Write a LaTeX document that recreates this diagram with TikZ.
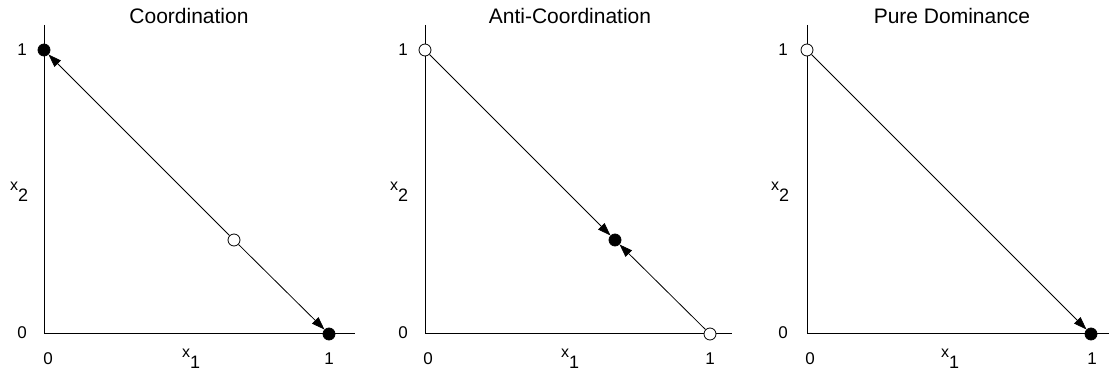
\documentclass[tikz,border=0pt]{standalone}
\usepackage{fontspec}
\setmainfont{Liberation Sans}
\usetikzlibrary{arrows.meta}
\newcommand{\lowsub}[1]{\raisebox{-11pt}{\fontsize{18}{18}\selectfont #1}}
\begin{document}
\begin{tikzpicture}[x=1pt,y=-1pt,
  axis/.style={line width=1pt},
  flow/.style={line width=0.8pt,-{Triangle[length=13pt,width=9pt]}},
  stable/.style={circle,draw,fill=black,minimum size=12pt,inner sep=0pt,line width=0.8pt},
  unstable/.style={circle,draw,fill=white,minimum size=12pt,inner sep=0pt,line width=0.8pt},
  ticklab/.style={font=\fontsize{17}{17}\selectfont,inner sep=0pt},
  paneltitle/.style={font=\fontsize{21}{21}\selectfont,inner sep=0pt},
  varlab/.style={font=\fontsize{16}{16}\selectfont,inner sep=0pt,anchor=base west}]
\useasboundingbox (0,0) rectangle (1109,371);

% Panel 1: Coordination
\begin{scope}[shift={(44,334)}]
  \draw[axis] (0,-309) coordinate (yt1) -- (0,0) coordinate (o1) -- (311,0) coordinate (xr1);
  \node[stable] (a1) at (0,-284) {};
  \node[stable] (b1) at (285,0) {};
  \node[unstable] (m1) at (190,-94) {};
  \draw[flow] (m1) -- (a1);
  \draw[flow] (m1) -- (b1);
  \node[ticklab] (l1a) at (-22,-284) {1};
  \node[ticklab] (l1b) at (-22,-1.5) {0};
  \node[ticklab] (l1c) at (4,25) {0};
  \node[ticklab] (l1d) at (285,25) {1};
  \node[varlab] (v1x) at (138,24) {x\lowsub{1}};
  \node[varlab] (v1y) at (-34,-143) {x\lowsub{2}};
  \node[paneltitle] (t1) at (145,-318.5) {Coordination};
\end{scope}

% Panel 2: Anti-Coordination
\begin{scope}[shift={(425,334)}]
  \draw[axis] (0,-309) coordinate (yt2) -- (0,0) coordinate (o2) -- (307,0) coordinate (xr2);
  \node[unstable] (a2) at (0,-284) {};
  \node[unstable] (b2) at (285,0) {};
  \node[stable] (m2) at (190,-94) {};
  \draw[flow] (a2) -- (m2);
  \draw[flow] (b2) -- (m2);
  \node[ticklab] (l2a) at (-22,-284) {1};
  \node[ticklab] (l2b) at (-22,-1.5) {0};
  \node[ticklab] (l2c) at (3,25) {0};
  \node[ticklab] (l2d) at (285,25) {1};
  \node[varlab] (v2x) at (136,24) {x\lowsub{1}};
  \node[varlab] (v2y) at (-35,-143) {x\lowsub{2}};
  \node[paneltitle] (t2) at (145,-318.5) {Anti-Coordination};
\end{scope}

% Panel 3: Pure Dominance
\begin{scope}[shift={(807,334)}]
  \draw[axis] (0,-309) coordinate (yt3) -- (0,0) coordinate (o3) -- (302,0) coordinate (xr3);
  \node[unstable] (a3) at (0,-284) {};
  \node[stable] (b3) at (284,0) {};
  \draw[flow] (a3) -- (b3);
  \node[ticklab] (l3a) at (-24,-284) {1};
  \node[ticklab] (l3b) at (-24,-1.5) {0};
  \node[ticklab] (l3c) at (3,25) {0};
  \node[ticklab] (l3d) at (285,25) {1};
  \node[varlab] (v3x) at (134,24) {x\lowsub{1}};
  \node[varlab] (v3y) at (-36,-143) {x\lowsub{2}};
  \node[paneltitle] (t3) at (145,-318.5) {Pure Dominance};
\end{scope}
\end{tikzpicture}
\end{document}
